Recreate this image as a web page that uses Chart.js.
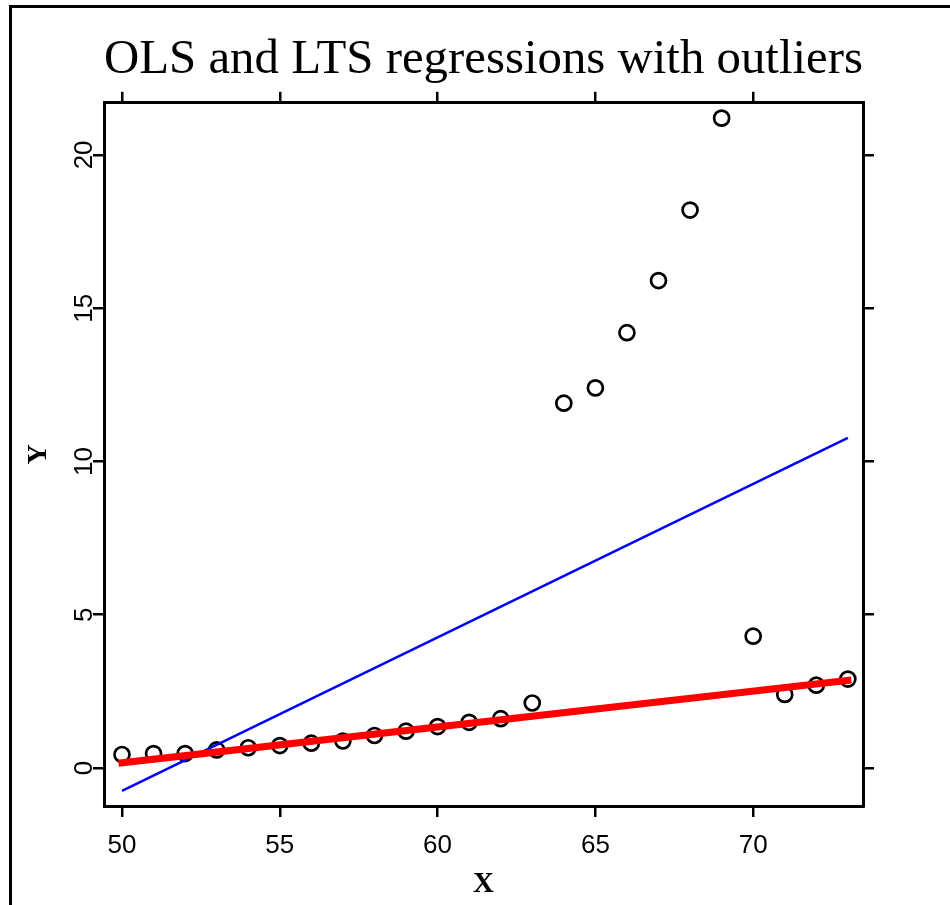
<!DOCTYPE html>
<html>
<head>
<meta charset="utf-8">
<script src="https://cdn.jsdelivr.net/npm/chart.js@4"></script>
<style>
  html, body { margin: 0; padding: 0; background: #fff; }
  #wrap { position: relative; width: 950px; height: 905px; overflow: hidden; }
  #frame { position: absolute; left: 9px; top: 5px; width: 1000px; height: 1000px;
           border-left: 3px solid #000; border-top: 3px solid #000; pointer-events: none; }
</style>
</head>
<body>
<div id="wrap">
  <canvas id="plot" width="950" height="905"></canvas>
  <div id="frame"></div>
</div>
<script>
// data
const years = [50, 51, 52, 53, 54, 55, 56, 57, 58, 59, 60, 61, 62, 63, 64, 65, 66, 67, 68, 69, 70, 71, 72, 73]
const calls = [0.44, 0.47, 0.47, 0.59, 0.66, 0.73, 0.81, 0.88, 1.06, 1.20, 1.35, 1.49, 1.61, 2.12,
               11.90, 12.40, 14.20, 15.90, 18.20, 21.20, 4.30, 2.40, 2.70, 2.90]

// fitted lines, end points
const olsX = [50, 73]
const olsY = [-0.75, 10.77]
const ltsX = [50, 73]
const ltsY = [0.17, 2.86]

const xTicks = [50, 55, 60, 65, 70]
const xTickLabels = ['50', '55', '60', '65', '70']
const yTicks = [0, 5, 10, 15, 20]
const yTickLabels = ['0', '5', '10', '15', '20']

const xRange = [49.43, 73.48]
const yRange = [-1.24, 21.70]

const toPoints = (xs, ys) => xs.map((x, i) => ({ x: x, y: ys[i] }))

const tickGrid = {
    display: true,
    drawOnChartArea: false,
    drawTicks: true,
    tickLength: 11,
    color: '#000',
    lineWidth: 2.5
}
const boxBorder = { display: true, color: '#000', width: 3 }

// y tick labels are drawn turned, like R does
const rotatedYLabels = {
    id: 'rotatedYLabels',
    afterDraw(chart) {
        const ctx = chart.ctx
        const sc = chart.scales.y
        ctx.save()
        ctx.fillStyle = '#000'
        ctx.font = '26px "Liberation Sans"'
        ctx.textAlign = 'center'
        ctx.textBaseline = 'middle'
        yTicks.forEach((v, i) => {
            ctx.save()
            ctx.translate(85, sc.getPixelForValue(v))
            ctx.rotate(-Math.PI / 2)
            ctx.fillText(yTickLabels[i], 0, 0)
            ctx.restore()
        })
        ctx.restore()
    }
}

new Chart(document.getElementById('plot'), {
    type: 'scatter',
    data: {
        datasets: [
            {
                label: 'LTS',
                data: toPoints(ltsX, ltsY),
                showLine: true,
                borderColor: '#ff0000',
                borderWidth: 7,
                borderCapStyle: 'square',
                pointRadius: 0
            },
            {
                label: 'OLS',
                data: toPoints(olsX, olsY),
                showLine: true,
                borderColor: '#0000ff',
                borderWidth: 2.5,
                pointRadius: 0
            },
            {
                label: 'Calls',
                data: toPoints(years, calls),
                pointStyle: 'circle',
                pointRadius: 7.5,
                borderWidth: 2.7,
                borderColor: '#000',
                backgroundColor: 'rgba(0,0,0,0)'
            }
        ]
    },
    options: {
        responsive: false,
        animation: false,
        layout: { padding: 0 },
        plugins: {
            legend: { display: false },
            tooltip: { enabled: false },
            title: {
                display: true,
                text: 'OLS and LTS regressions with outliers',
                color: '#000',
                fullSize: false,
                font: { family: 'Liberation Serif', size: 49, weight: 'normal' },
                padding: { top: 31, bottom: 3 }
            }
        },
        scales: {
            x: {
                type: 'linear',
                position: 'bottom',
                min: xRange[0],
                max: xRange[1],
                afterBuildTicks: (s) => { s.ticks = xTicks.map(v => ({ value: v })) },
                afterFit: (s) => { s.height = 99 },
                grid: tickGrid,
                border: boxBorder,
                ticks: {
                    color: '#000',
                    padding: 13,
                    maxRotation: 0,
                    font: { family: 'Liberation Sans', size: 26 },
                    callback: (v) => xTickLabels[xTicks.indexOf(v)]
                },
                title: {
                    display: true,
                    text: 'X',
                    color: '#000',
                    font: { family: 'Liberation Serif', size: 29, weight: 'bold' },
                    padding: { top: 0, bottom: 3 }
                }
            },
            x2: {
                type: 'linear',
                axis: 'x',
                position: 'top',
                min: xRange[0],
                max: xRange[1],
                afterBuildTicks: (s) => { s.ticks = xTicks.map(v => ({ value: v })) },
                afterFit: (s) => { s.height = 10 },
                grid: tickGrid,
                border: boxBorder,
                ticks: { display: false }
            },
            y: {
                type: 'linear',
                position: 'left',
                min: yRange[0],
                max: yRange[1],
                afterBuildTicks: (s) => { s.ticks = yTicks.map(v => ({ value: v })) },
                afterFit: (s) => { s.width = 104 },
                grid: tickGrid,
                border: boxBorder,
                ticks: { display: false },
                title: {
                    display: true,
                    text: 'Y',
                    color: '#000',
                    font: { family: 'Liberation Serif', size: 28, weight: 'bold' },
                    padding: { top: 22, bottom: 0 }
                }
            },
            y2: {
                type: 'linear',
                axis: 'y',
                position: 'right',
                min: yRange[0],
                max: yRange[1],
                afterBuildTicks: (s) => { s.ticks = yTicks.map(v => ({ value: v })) },
                afterFit: (s) => { s.width = 87 },
                grid: tickGrid,
                border: boxBorder,
                ticks: { display: false }
            }
        }
    },
    plugins: [rotatedYLabels]
});
</script>
</body>
</html>
